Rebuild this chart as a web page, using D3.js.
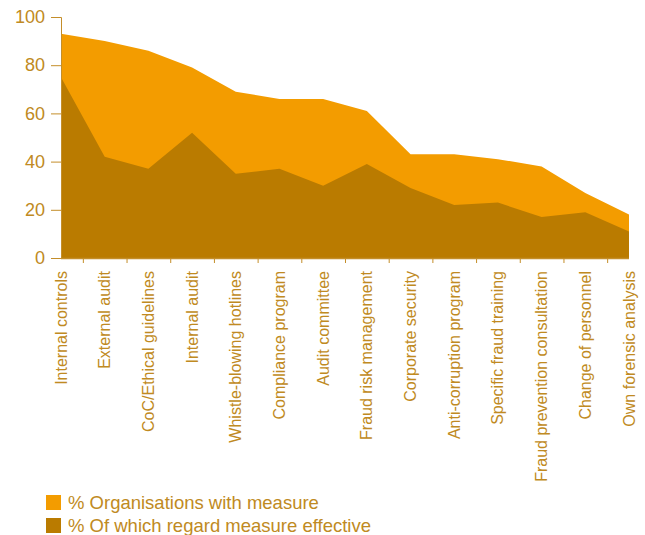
<!DOCTYPE html>
<html lang="en">
<head>
    <meta charset="UTF-8">
    <title>Fraud prevention measures</title>
    <script src="https://d3js.org/d3.v7.min.js"></script>
    <style>
        body {
            margin: 0;
            background: #fff;
            font-family: "Liberation Sans", Arial, sans-serif;
        }
        .axis text {
            fill: #c08a22;
        }
        .legend text {
            fill: #c08a22;
            font-size: 18.5px;
        }
    </style>
</head>
<body>
    <svg id="chart" width="645" height="535"></svg>
    <script>
        const categories = [
            "Internal controls", "External audit", "CoC/Ethical guidelines", "Internal audit",
            "Whistle-blowing hotlines", "Compliance program", "Audit committee",
            "Fraud risk management", "Corporate security", "Anti-corruption program",
            "Specific fraud training", "Fraud prevention consultation",
            "Change of personnel", "Own forensic analysis"
        ];
        const withMeasure = [93, 90, 86, 79, 69, 66, 66, 61, 43, 43, 41, 38, 27, 18];
        const effective = [75, 42, 37, 52, 35, 37, 30, 39, 29, 22, 23, 17, 19, 11];
        const yTicks = [0, 20, 40, 60, 80, 100];
        const seriesNames = ["% Organisations with measure", "% Of which regard measure effective"];

        const colTop = "#f39c00";
        const colBottom = "#ba7b00";
        const axisCol = "#c48e2a";

        const margin = { left: 61, right: 16, top: 17, bottom: 277 };
        const width = 645, height = 535;

        const svg = d3.select("#chart");

        const x = d3.scalePoint()
            .domain(categories)
            .range([margin.left, width - margin.right]);

        const y = d3.scaleLinear()
            .domain([0, 100])
            .range([height - margin.bottom, margin.top]);

        const rows = categories.map((c, i) => ({ c, top: withMeasure[i], eff: effective[i] }));

        const area = key => d3.area()
            .x(d => x(d.c))
            .y0(y(0))
            .y1(d => y(d[key]));

        svg.append("path").datum(rows)
            .attr("fill", colTop)
            .attr("d", area("top"));
        svg.append("path").datum(rows)
            .attr("fill", colBottom)
            .attr("d", area("eff"));

        // y axis
        const yAxis = svg.append("g")
            .attr("class", "axis")
            .attr("transform", `translate(${margin.left},0)`)
            .call(d3.axisLeft(y).tickValues(yTicks).tickSize(10).tickPadding(6))
            .style("font-family", "inherit")
            .style("font-size", "18px");
        yAxis.selectAll("line, path").attr("stroke", axisCol);

        // x axis: ticks between categories, labels at the points
        const step = x.step();
        const baseY = y(0);
        svg.append("line")
            .attr("x1", x(categories[0])).attr("x2", x(categories[categories.length - 1]))
            .attr("y1", baseY + 0.5).attr("y2", baseY + 0.5)
            .attr("stroke", axisCol).attr("stroke-width", 1.5);

        svg.append("g")
            .selectAll("line")
            .data(categories.slice(0, -1))
            .join("line")
            .attr("x1", d => x(d) + step / 2 + 0.5)
            .attr("x2", d => x(d) + step / 2 + 0.5)
            .attr("y1", baseY)
            .attr("y2", baseY + 5)
            .attr("stroke", axisCol);

        svg.append("g")
            .attr("class", "axis")
            .selectAll("text")
            .data(categories)
            .join("text")
            .attr("transform", d => `translate(${x(d) + 5.5},${baseY + 13}) rotate(-90)`)
            .attr("text-anchor", "end")
            .style("font-size", "16px")
            .text(d => d);

        // legend
        const legend = svg.append("g").attr("class", "legend");
        [colTop, colBottom].forEach((c, i) => {
            legend.append("rect")
                .attr("x", 46).attr("y", 495 + i * 23)
                .attr("width", 15).attr("height", 15)
                .attr("fill", c);
            legend.append("text")
                .attr("x", 68).attr("y", 509 + i * 23)
                .text(seriesNames[i]);
        });
    </script>
</body>
</html>
